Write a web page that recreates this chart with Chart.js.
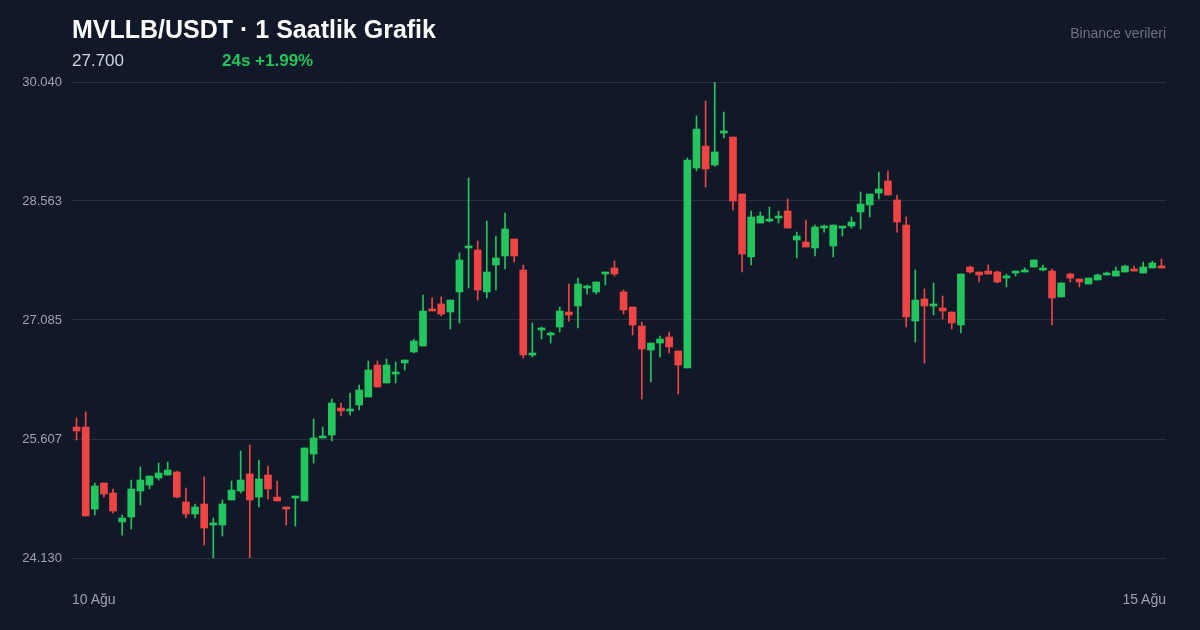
<!DOCTYPE html>
<html lang="tr">
<head>
<meta charset="utf-8">
<script src="https://cdn.jsdelivr.net/npm/chart.js@4"></script>
<style>
  html, body { margin: 0; padding: 0; background: #111827; width: 1200px; height: 630px; overflow: hidden; font-family: "Liberation Sans", Arial, sans-serif; }
  #wrap { position: relative; width: 1200px; height: 630px; }
  canvas { position: absolute; left: 0; top: 0; }
  .txt { position: absolute; white-space: nowrap; }
  #title { left: 72px; top: 15px; font-size: 25px; font-weight: bold; color: #f9fafb; }
  #price { left: 72px; top: 51px; font-size: 17px; color: #d1d5db; }
  #change { left: 222px; top: 51px; font-size: 17px; font-weight: bold; color: #22c55e; }
  #source { right: 34px; top: 25px; font-size: 14px; color: #6b7280; }
  .xl { top: 591px; font-size: 14px; color: #9ca3af; }
</style>
</head>
<body>
<div id="wrap">
  <canvas id="chart" width="1200" height="630"></canvas>
  <div class="txt" id="title">MVLLB/USDT · 1 Saatlik Grafik</div>
  <div class="txt" id="price">27.700</div>
  <div class="txt" id="change">24s +1.99%</div>
  <div class="txt" id="source">Binance verileri</div>
  <div class="txt xl" id="xStart" style="left:72px">10 Ağu</div>
  <div class="txt xl" id="xEnd" style="right:34px">15 Ağu</div>
</div>
<script>
// hourly candles, 10 Ağu -> 15 Ağu
const opens = [
    25.756, 25.756, 24.738, 25.061, 24.937, 24.577, 24.639, 24.962, 25.036, 25.123,
    25.160, 25.198, 24.825, 24.676, 24.800, 24.540, 24.540, 24.850, 24.962, 25.173,
    24.887, 25.160, 24.887, 24.763, 24.875, 24.838, 25.421, 25.620, 25.657, 25.992,
    25.955, 26.030, 26.129, 26.526, 26.303, 26.414, 26.551, 26.688, 26.762, 27.209,
    27.284, 27.184, 27.433, 27.979, 27.954, 27.433, 27.768, 27.880, 28.091, 27.706,
    26.650, 26.961, 26.899, 26.998, 27.184, 27.259, 27.482, 27.433, 27.656, 27.731,
    27.433, 27.246, 27.010, 26.712, 26.799, 26.874, 26.700, 26.489, 28.972, 29.245,
    29.009, 29.407, 29.357, 28.649, 27.868, 28.289, 28.314, 28.351, 28.438, 28.078,
    28.053, 27.979, 28.227, 28.004, 28.227, 28.252, 28.426, 28.513, 28.662, 28.811,
    28.575, 28.264, 27.072, 27.346, 27.259, 27.234, 27.184, 27.023, 27.743, 27.681,
    27.693, 27.681, 27.607, 27.668, 27.681, 27.743, 27.706, 27.693, 27.371, 27.656,
    27.594, 27.532, 27.582, 27.644, 27.631, 27.681, 27.706, 27.668, 27.731, 27.743,
];
const closes = [
    25.707, 24.651, 25.024, 24.924, 24.713, 24.627, 24.987, 25.098, 25.148, 25.185,
    25.222, 24.887, 24.676, 24.763, 24.502, 24.564, 24.800, 24.974, 25.098, 24.850,
    25.111, 24.987, 24.838, 24.738, 24.887, 25.496, 25.620, 25.632, 26.054, 25.955,
    25.967, 26.216, 26.464, 26.253, 26.526, 26.427, 26.588, 26.824, 27.197, 27.197,
    27.159, 27.333, 27.830, 27.991, 27.457, 27.681, 27.855, 28.215, 27.880, 26.650,
    26.663, 26.973, 26.911, 27.197, 27.147, 27.532, 27.495, 27.557, 27.668, 27.656,
    27.209, 27.023, 26.725, 26.799, 26.849, 26.750, 26.526, 29.071, 29.456, 28.960,
    29.171, 29.420, 28.562, 27.904, 28.364, 28.376, 28.327, 28.364, 28.227, 28.128,
    27.991, 28.240, 28.240, 28.264, 28.240, 28.302, 28.525, 28.649, 28.711, 28.637,
    28.302, 27.122, 27.333, 27.259, 27.271, 27.197, 27.048, 27.656, 27.681, 27.644,
    27.656, 27.557, 27.619, 27.681, 27.693, 27.830, 27.718, 27.358, 27.545, 27.606,
    27.557, 27.606, 27.644, 27.668, 27.693, 27.755, 27.693, 27.743, 27.793, 27.731,
];
const highs = [
    25.868, 25.943, 25.061, 25.061, 24.987, 24.664, 25.098, 25.260, 25.148, 25.309,
    25.322, 25.210, 24.999, 24.800, 25.136, 24.627, 24.850, 25.086, 25.458, 25.533,
    25.347, 25.272, 25.086, 24.763, 24.887, 25.496, 25.856, 25.756, 26.104, 26.054,
    26.179, 26.278, 26.576, 26.576, 26.601, 26.563, 26.588, 26.849, 27.395, 27.358,
    27.371, 27.333, 27.917, 28.848, 28.066, 28.314, 28.128, 28.413, 28.091, 27.768,
    27.048, 26.998, 26.936, 27.246, 27.532, 27.606, 27.519, 27.557, 27.681, 27.817,
    27.457, 27.246, 27.060, 26.799, 26.886, 26.936, 26.700, 29.096, 29.618, 29.804,
    30.040, 29.667, 29.357, 28.649, 28.438, 28.426, 28.488, 28.438, 28.587, 28.177,
    28.327, 28.264, 28.264, 28.264, 28.240, 28.364, 28.674, 28.649, 28.922, 28.935,
    28.637, 28.364, 27.706, 27.470, 27.544, 27.383, 27.184, 27.656, 27.755, 27.681,
    27.768, 27.693, 27.656, 27.693, 27.731, 27.830, 27.768, 27.718, 27.545, 27.668,
    27.594, 27.606, 27.656, 27.681, 27.743, 27.768, 27.755, 27.805, 27.817, 27.842,
];
const lows = [
    25.595, 24.651, 24.664, 24.887, 24.689, 24.415, 24.490, 24.788, 24.987, 25.098,
    25.160, 24.875, 24.627, 24.627, 24.291, 24.130, 24.403, 24.850, 24.937, 24.130,
    24.763, 24.862, 24.838, 24.540, 24.527, 24.838, 25.309, 25.620, 25.583, 25.893,
    25.905, 25.967, 26.129, 26.253, 26.303, 26.303, 26.464, 26.675, 26.762, 27.197,
    27.135, 26.973, 27.048, 27.482, 27.333, 27.358, 27.457, 27.718, 27.805, 26.613,
    26.625, 26.849, 26.799, 26.936, 27.072, 26.986, 27.408, 27.408, 27.519, 27.631,
    27.159, 26.899, 26.104, 26.315, 26.625, 26.675, 26.166, 26.489, 28.935, 28.736,
    28.996, 29.345, 28.451, 27.681, 27.768, 28.289, 28.302, 28.289, 28.227, 27.855,
    27.991, 27.880, 28.177, 27.868, 28.128, 28.227, 28.215, 28.364, 28.587, 28.637,
    28.177, 26.998, 26.812, 26.551, 27.147, 27.097, 26.973, 26.924, 27.668, 27.557,
    27.656, 27.545, 27.495, 27.631, 27.681, 27.743, 27.693, 27.023, 27.371, 27.557,
    27.495, 27.532, 27.582, 27.644, 27.631, 27.681, 27.693, 27.668, 27.731, 27.731,
];
const yTicks = [24.130, 25.607, 27.085, 28.563, 30.040];

const UP = "#22c55e";
const DOWN = "#ef4444";

const labels = opens.map((_, i) => i);
const colors = opens.map((o, i) => (closes[i] >= o ? UP : DOWN));

new Chart(document.getElementById("chart"), {
    type: "bar",
    data: {
        labels: labels,
        datasets: [
            {
                label: "Gövde",
                data: opens.map((o, i) => [o, closes[i]]),
                backgroundColor: colors,
                barThickness: 7,
                minBarLength: 2,
                order: 1,
            },
            {
                label: "Fitil",
                data: lows.map((l, i) => [l, highs[i]]),
                backgroundColor: colors,
                barThickness: 1,
                order: 2,
            },
        ],
    },
    options: {
        responsive: false,
        animation: false,
        layout: { padding: { top: 82, right: 34, bottom: 64, left: 0 } },
        plugins: { legend: { display: false }, tooltip: { enabled: false } },
        datasets: { bar: { grouped: false } },
        scales: {
            x: {
                offset: true,
                grid: { display: false },
                border: { display: false },
                ticks: { display: false },
            },
            y: {
                min: yTicks[0],
                max: yTicks[yTicks.length - 1],
                afterBuildTicks: (axis) => { axis.ticks = yTicks.map((v) => ({ value: v })); },
                afterFit: (axis) => { axis.width = 72; },
                border: { display: false },
                grid: { color: "#263040", lineWidth: 1, drawTicks: false },
                ticks: {
                    color: "#9ca3af",
                    padding: 10,
                    font: { family: "Liberation Sans", size: 13 },
                    callback: (v) => Number(v).toFixed(3),
                },
            },
        },
    },
});
</script>
</body>
</html>
